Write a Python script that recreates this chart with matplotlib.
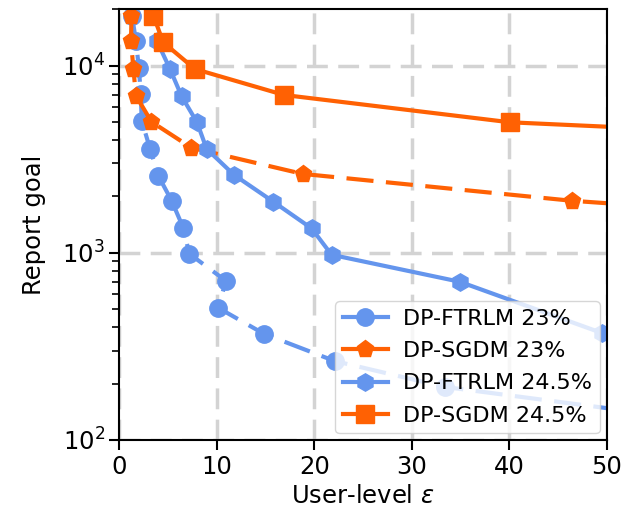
import matplotlib
matplotlib.use("Agg")
import matplotlib.pyplot as plt

blue = "#6495ed"
orange = "#ff6103"

# DP-FTRLM 23%
eps_ftrlm_23 = [1.3, 1.7, 2.0, 2.2, 2.3, 3.15, 4.0, 5.37, 6.56, 7.18, 10.94, 10.15, 14.84, 22.1, 33.4, 53.5]
goal_ftrlm_23 = [18500, 13600, 9760, 7080, 5080, 3600, 2580, 1897, 1360, 988, 708, 508, 369, 264, 192, 140]

# DP-SGDM 23%
eps_sgdm_23 = [1.25, 1.2, 1.45, 1.7, 3.3, 7.4, 18.8, 46.4, 85.0]
goal_sgdm_23 = [18500, 13500, 9590, 6920, 5010, 3640, 2640, 1897, 1370]

# DP-FTRLM 24.5%
eps_ftrlm_245 = [3.84, 5.2, 6.4, 7.97, 8.96, 11.76, 15.8, 19.73, 21.78, 34.94, 49.5]
goal_ftrlm_245 = [13600, 9590, 6850, 4980, 3590, 2610, 1875, 1350, 976, 700, 373]

# DP-SGDM 24.5%
eps_sgdm_245 = [3.5, 4.5, 7.76, 16.9, 40.1, 100.0]
goal_sgdm_245 = [18500, 13330, 9590, 6970, 4980, 3590]

fig = plt.figure(figsize=(6.26, 5.25), dpi=100)
ax = fig.add_axes([0.1906, 0.162, 0.7784, 0.8203])

lw = 3
ms = 12.5
dash = (6.5, 3)

ax.plot(eps_ftrlm_23, goal_ftrlm_23, color=blue, marker="o", lw=lw, ms=ms,
        linestyle="--", dashes=dash, label="DP-FTRLM 23%")
ax.plot(eps_sgdm_23, goal_sgdm_23, color=orange, marker="p", lw=lw, ms=ms,
        linestyle="--", dashes=dash, label="DP-SGDM 23%")
ax.plot(eps_ftrlm_245, goal_ftrlm_245, color=blue, marker="h", lw=lw, ms=ms,
        label="DP-FTRLM 24.5%")
ax.plot(eps_sgdm_245, goal_sgdm_245, color=orange, marker="s", lw=lw, ms=ms,
        label="DP-SGDM 24.5%")

ax.set_yscale("log")
ax.set_xlim(0, 50)
ax.set_ylim(100, 20000)
ax.set_xticks([0, 10, 20, 30, 40, 50])

ax.grid(True, which="major", color="lightgray", linestyle="--", dashes=(6, 3), lw=2.5)
ax.set_axisbelow(True)

ax.tick_params(axis="both", which="major", labelsize=17.5, length=7, width=1.5)
ax.tick_params(axis="y", which="minor", length=5, width=1.2)
for s in ax.spines.values():
    s.set_linewidth(1.5)

ax.set_xlabel(r"User-level $\varepsilon$", fontsize=17.5)
ax.set_ylabel("Report goal", fontsize=17.5, labelpad=11)

leg = ax.legend(loc="lower right", fontsize=16, borderaxespad=0.3, handlelength=2.0,
                labelspacing=0.55, borderpad=0.35, handletextpad=0.7)
for ln in leg.get_lines():
    ln.set_linestyle("-")

fig.savefig("out.png", dpi=100)
